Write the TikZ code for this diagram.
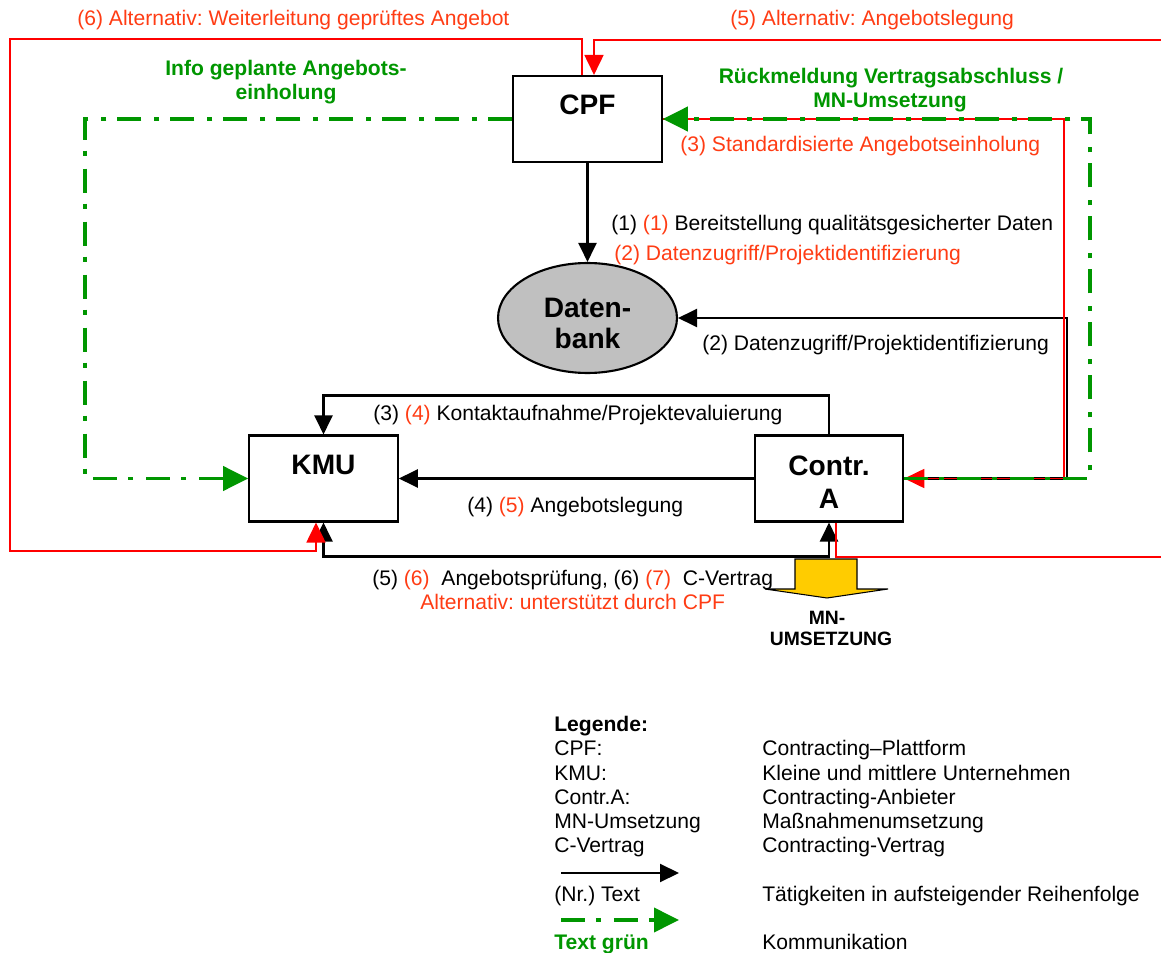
\documentclass[tikz,border=0pt]{standalone}
\usepackage{fontspec}
\setmainfont{Liberation Sans}
\usetikzlibrary{arrows.meta,shapes.geometric}

\definecolor{linered}{RGB}{255,0,0}
\definecolor{textred}{RGB}{255,60,20}
\definecolor{commgreen}{RGB}{0,150,0}
\definecolor{mnyellow}{RGB}{255,204,0}
\definecolor{dbgray}{RGB}{192,192,192}

\newcommand{\alt}[1]{\textcolor{textred}{#1}}
\frenchspacing

\begin{document}
\begin{tikzpicture}[x=0.02cm, y=-0.02cm,
  box/.style={draw=black, line width=1.2pt, fill=white, minimum width=2.97cm,
    minimum height=1.72cm, inner sep=0pt},
  boxtext/.style={font=\fontsize{16}{19}\selectfont\bfseries, anchor=base, inner sep=0pt},
  txt/.style={font=\fontsize{12}{14}\selectfont, anchor=base west, inner sep=0pt},
  redtxt/.style={txt, text=textred},
  greentxt/.style={font=\fontsize{12}{14}\selectfont\bfseries, text=commgreen,
    anchor=base, inner sep=0pt},
  mntxt/.style={font=\fontsize{11}{13}\selectfont\bfseries, anchor=base, inner sep=0pt},
  blackline/.style={draw=black, line width=1.2pt},
  redline/.style={draw=linered, line width=1pt},
  commline/.style={draw=commgreen, line width=2.2pt,
    dash pattern=on 0.48cm off 0.22cm on 0.1cm off 0.26cm},
  tipb/.style={-{Triangle[length=0.38cm,width=0.36cm]}},
  tipbb/.style={{Triangle[length=0.38cm,width=0.36cm]}-{Triangle[length=0.38cm,width=0.36cm]}},
  tipr/.style={-{Triangle[length=0.4cm,width=0.38cm]}},
  tipg/.style={-{Triangle[length=0.5cm,width=0.48cm]}},
]
\useasboundingbox (0,0) rectangle (1161,953);

% ---------- actors ----------
\node[box] (cpf) at (587.5,119) {};
\node[box] (kmu) at (323.5,478.5) {};
\node[box] (contr) at (829,478.5) {};
\node[ellipse, draw=black, line width=1.2pt, fill=dbgray, minimum width=3.58cm,
  minimum height=2.2cm, inner sep=0pt] (db) at (587.5,318) {};

\node[boxtext] (cpf-t) at (587.5,115) {CPF};
\node[boxtext] (kmu-t) at (323.5,474) {KMU};
\node[boxtext] (contr-t1) at (829,475) {Contr.};
\node[boxtext] (contr-t2) at (829,508) {A};
\node[boxtext] (db-t1) at (587.5,317) {Daten-};
\node[boxtext] (db-t2) at (587.5,348) {bank};

% ---------- points where lines leave the sheet on the right ----------
\coordinate (offR-low) at (1161,557);
\coordinate (offR-top) at (1161,40);

% ---------- activity flows ----------
% (1) CPF -> Datenbank
\draw[blackline, tipb] (cpf.south) -- (db.north);
% (2) Contr.A -> Datenbank
\draw[blackline, tipb] (contr.east) -| (1067,318) -- (db.east);
% (3) CPF -> Contr.A (red)
\draw[redline, tipr] (cpf.east) -| (1064,478.5) -- (contr.east);
% (3)(4) Contr.A -> KMU, over the top
\draw[blackline, tipb] (contr.north) -- ++(0,-39) -| (kmu.north);
% (4)(5) Contr.A -> KMU
\draw[blackline, tipb] (contr.west) -- (kmu.east);
% (5)(6)/(6)(7) between KMU and Contr.A
\draw[blackline, tipbb] (kmu.south) -- ++(0,34) -| (contr.south);
% (6) alternative: CPF -> KMU (red)
\draw[redline, tipr] ([xshift=-0.11cm]cpf.north) -- ++(0,-36) -| (10,551)
  -| ([xshift=-0.15cm]kmu.south);
% (5) alternative: Contr.A -> CPF (red), around the right edge
\draw[redline] ([xshift=0.14cm]contr.south) |- (offR-low);
\draw[redline, tipr] (offR-top) -| ([xshift=0.13cm]cpf.north);

% ---------- communication ----------
\draw[commline, tipg] (cpf.west) -| (85,478.5) -- (kmu.west);
\draw[commline, tipg] (contr.east) -| (1090,119) -- (cpf.east);

% ---------- measure implementation ----------
\filldraw[fill=mnyellow, draw=black, line width=0.6pt]
  (795,559) -- (857,559) -- (857,589) -- (888,589) -- (827,598)
  -- (765,589) -- (795,589) -- cycle;
\node[mntxt] (mn-t1) at (827,624) {MN-};
\node[mntxt] (mn-t2) at (831,645) {UMSETZUNG};

% ---------- labels ----------
\node[redtxt] (l-6alt) at (77,26) {(6) Alternativ: Weiterleitung geprüftes Angebot};
\node[redtxt] (l-5alt) at (730,26) {(5) Alternativ: Angebotslegung};
\node[greentxt] (l-info1) at (286,76) {Info geplante Angebots-};
\node[greentxt] (l-info2) at (286,100) {einholung};
\node[greentxt] (l-rm1) at (891,84) {Rückmeldung Vertragsabschluss /};
\node[greentxt] (l-rm2) at (890,108) {MN-Umsetzung};
\node[redtxt] (l-3) at (680,152) {(3) Standardisierte Angebotseinholung};
\node[txt] (l-1) at (611,231) {(1) \alt{(1)} Bereitstellung qualitätsgesicherter Daten};
\node[redtxt] (l-2r) at (614,260) {(2) Datenzugriff/Projektidentifizierung};
\node[txt] (l-2) at (702,350) {(2) Datenzugriff/Projektidentifizierung};
\node[txt] (l-34) at (373,420) {(3) \alt{(4)} Kontaktaufnahme/Projektevaluierung};
\node[txt] (l-45) at (467,512) {(4) \alt{(5)} Angebotslegung};
\node[txt] (l-56) at (372,585) {(5) \alt{(6)}\ \ Angebotsprüfung, (6) \alt{(7)}\ \ C-Vertrag};
\node[redtxt] (l-alt) at (420,609) {Alternativ: unterstützt durch CPF};

% ---------- legend ----------
\node[txt, font=\fontsize{12}{14}\selectfont\bfseries] (lg-head) at (554,731) {Legende:};
\node[txt] (lg-a1) at (554,755) {CPF:};
\node[txt] (lg-b1) at (762,755) {Contracting–Plattform};
\node[txt] (lg-a2) at (554,780) {KMU:};
\node[txt] (lg-b2) at (762,780) {Kleine und mittlere Unternehmen};
\node[txt] (lg-a3) at (554,804) {Contr.A:};
\node[txt] (lg-b3) at (762,804) {Contracting-Anbieter};
\node[txt] (lg-a4) at (554,828) {MN-Umsetzung};
\node[txt] (lg-b4) at (762,828) {Maßnahmenumsetzung};
\node[txt] (lg-a5) at (554,852) {C-Vertrag};
\node[txt] (lg-b5) at (762,852) {Contracting-Vertrag};

\coordinate (lg-k1) at (561,873);
\coordinate (lg-k2) at (679,873);
\draw[blackline, tipb] (lg-k1) -- (lg-k2);
\node[txt] (lg-a6) at (554,901) {(Nr.) Text};
\node[txt] (lg-b6) at (762,901) {Tätigkeiten in aufsteigender Reihenfolge};

\coordinate (lg-g1) at (561,920);
\coordinate (lg-g2) at (679,920);
\draw[commline, tipg] (lg-g1) -- (lg-g2);
\node[txt, font=\fontsize{12}{14}\selectfont\bfseries, text=commgreen] (lg-a7) at (554,949) {Text grün};
\node[txt] (lg-b7) at (762,949) {Kommunikation};
\end{tikzpicture}
\end{document}
